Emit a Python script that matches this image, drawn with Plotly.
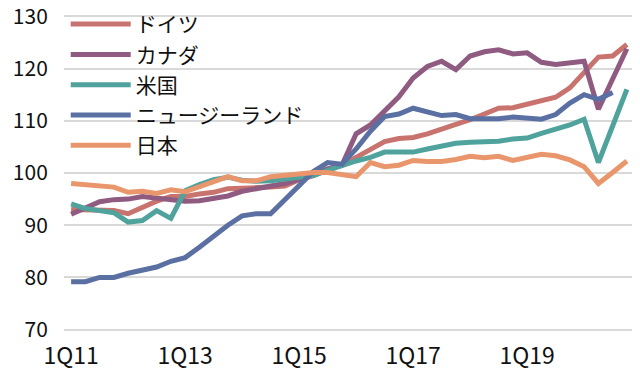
import plotly.graph_objects as go

quarters = [
    "1Q11", "2Q11", "3Q11", "4Q11", "1Q12", "2Q12", "3Q12", "4Q12",
    "1Q13", "2Q13", "3Q13", "4Q13", "1Q14", "2Q14", "3Q14", "4Q14",
    "1Q15", "2Q15", "3Q15", "4Q15", "1Q16", "2Q16", "3Q16", "4Q16",
    "1Q17", "2Q17", "3Q17", "4Q17", "1Q18", "2Q18", "3Q18", "4Q18",
    "1Q19", "2Q19", "3Q19", "4Q19", "1Q20", "2Q20", "3Q20", "4Q20",
]
tick_labels = ["1Q11", "1Q13", "1Q15", "1Q17", "1Q19"]
y_ticks = [70, 80, 90, 100, 110, 120, 130]

germany = [93.0, 93.0, 93.0, 92.8, 92.2, 93.5, 94.6, 95.5, 95.5, 96.0,
           96.3, 97.0, 97.2, 97.2, 97.3, 97.5, 98.7, 99.5, 100.7, 101.5,
           103.0, 104.5, 106.0, 106.6, 106.8, 107.5, 108.5, 109.3, 110.2, 111.2,
           112.4, 112.5, 113.1, 113.9, 114.5, 116.3, 119.3, 122.2, 122.4, 124.6]
canada = [92.1, 93.4, 94.5, 94.9, 95.0, 95.5, 95.2, 94.8, 94.6, 94.7,
          95.2, 95.6, 96.5, 97.0, 97.5, 98.0, 98.8, 99.8, 100.8, 101.5,
          107.5, 109.2, 112.0, 114.6, 118.2, 120.4, 121.4, 119.8, 122.4, 123.2,
          123.6, 122.8, 123.0, 121.2, 120.8, 121.1, 121.4, 112.2, 118.0, 123.8]
usa = [94.1, 93.2, 92.8, 92.4, 90.6, 90.9, 92.8, 91.3, 96.6, 97.8,
       98.7, 99.2, 98.6, 98.4, 98.5, 98.8, 99.2, 99.5, 100.5, 101.5,
       102.3, 103.0, 104.0, 104.0, 104.0, 104.6, 105.2, 105.7, 105.9, 106.0,
       106.1, 106.5, 106.7, 107.6, 108.4, 109.2, 110.3, 102.0, 109.0, 116.0]
new_zealand = [79.2, 79.2, 80.0, 80.0, 80.8, 81.3, 82.0, 83.1, 83.8, 85.8,
               88.0, 90.0, 91.8, 92.2, 92.2, 94.8, 97.5, 100.3, 102.0, 101.7,
               104.6, 108.0, 110.8, 111.3, 112.4, 111.8, 111.0, 111.2, 110.4, 110.4,
               110.4, 110.7, 110.4, 110.3, 111.2, 113.4, 115.0, 114.1, 115.4]
japan = [98.0, 97.7, 97.6, 97.3, 96.3, 96.5, 96.1, 96.8, 96.4, 97.3,
         98.3, 99.3, 98.5, 98.5, 99.3, 99.6, 100.0, 100.1, 100.1, 99.8,
         99.3, 102.0, 101.2, 101.5, 102.4, 102.2, 102.2, 102.6, 103.2, 102.9,
         103.2, 102.4, 103.0, 103.6, 103.3, 102.5, 101.2, 98.0, 100.1, 102.3]

series = [
    ("ドイツ", germany, "#c8736e"),
    ("カナダ", canada, "#8f5b80"),
    ("米国", usa, "#4fa39c"),
    ("ニュージーランド", new_zealand, "#5a6fa2"),
    ("日本", japan, "#e9966c"),
]

font_family = "Noto Sans CJK JP"

fig = go.Figure()
for name, vals, color in series:
    fig.add_trace(go.Scatter(
        x=quarters[:len(vals)], y=vals, name=name, mode="lines",
        line=dict(color=color, width=5),
    ))

# the page body adds an 8px offset, so the figure is 8px smaller than the window
fig.update_layout(
    width=632, height=364,
    margin=dict(l=56, r=6, t=7, b=41, autoexpand=False),
    paper_bgcolor="white", plot_bgcolor="white",
    font=dict(family=font_family, color="#111111", size=21),
    showlegend=True,
    legend=dict(
        x=0.003, y=1.035, xanchor="left", yanchor="top",
        bgcolor="rgba(0,0,0,0)", font=dict(size=21, family=font_family, color="#111111"),
        itemwidth=60, tracegroupgap=0,
    ),
)
fig.update_xaxes(
    type="category", categoryorder="array", categoryarray=quarters,
    range=[-0.5, len(quarters) - 0.5],
    tickmode="array", tickvals=tick_labels, ticktext=tick_labels,
    showgrid=False, zeroline=False, showline=False,
    ticks="outside", ticklen=4, tickcolor="rgba(0,0,0,0)",
    tickfont=dict(size=23, family=font_family, color="#111111"),
)
fig.update_yaxes(
    range=[69.75, 130.25], tickmode="array", tickvals=y_ticks,
    showgrid=True, gridcolor="#d9d9d9", gridwidth=2, zeroline=False, showline=False,
    ticks="outside", ticklen=11, tickcolor="rgba(0,0,0,0)",
    ticklabeloverflow="allow",
    tickfont=dict(size=21, family=font_family, color="#111111"),
)

fig.write_html("out.html")
